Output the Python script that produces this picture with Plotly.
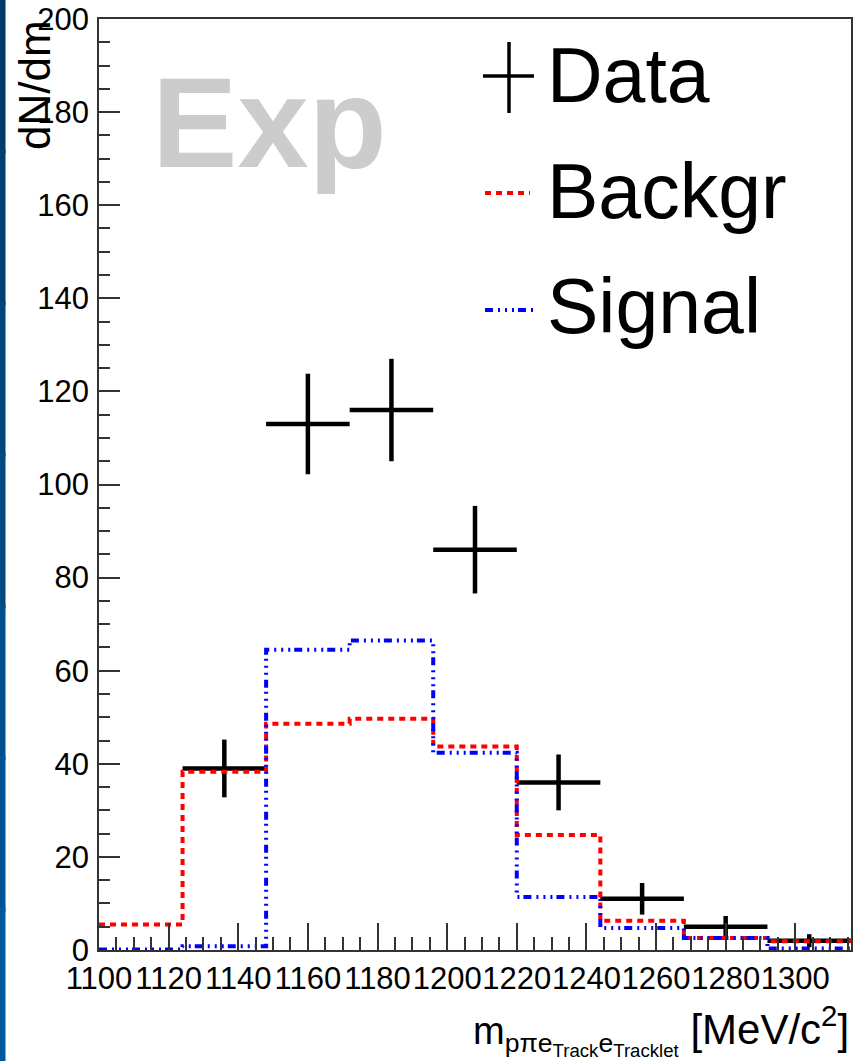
import plotly.graph_objects as go

# ---- data ----
bin_edges = [1100, 1124, 1148, 1172, 1196, 1220, 1244, 1268, 1292, 1316]
bin_centers = [1112, 1136, 1160, 1184, 1208, 1232, 1256, 1280, 1304]
data_counts = [None, 39, 113, 116, 86, 36, 11, 5, 2]
data_errors = [None, 6.2, 10.8, 11.0, 9.4, 6.0, 3.4, 2.3, 1.4]
backgr = [5.5, 38.3, 48.6, 49.7, 43.7, 24.7, 6.3, 2.6, 1.9]
signal = [0.1, 0.8, 64.5, 66.5, 42.4, 11.4, 4.7, 2.6, 0.3]
x_ticks = [1100, 1120, 1140, 1160, 1180, 1200, 1220, 1240, 1260, 1280, 1300]
y_ticks = [0, 20, 40, 60, 80, 100, 120, 140, 160, 180, 200]

W, H = 862, 1061
ML, MR, MT, MB = 99, 11, 19, 111
PW, PH = W - ML - MR, H - MT - MB
FONT = "Liberation Sans, Arial, Helvetica, sans-serif"


def px(xp):
    return (xp - ML) / PW


def py(yp):
    return 1 - (yp - MT) / PH


fig = go.Figure()

# Data with error crosses
half_w = [(bin_edges[i + 1] - bin_edges[i]) / 2 for i in range(len(bin_centers))]
fig.add_trace(go.Scatter(
    x=bin_centers, y=data_counts, mode="markers",
    marker=dict(size=1, color="black"),
    error_x=dict(type="data", array=half_w, width=0, thickness=4.5, color="black"),
    error_y=dict(type="data", array=data_errors, width=0, thickness=4.5, color="black"),
    name="Data", showlegend=False,
))

# step histograms
fig.add_trace(go.Scatter(
    x=bin_edges, y=backgr + [backgr[-1]], mode="lines", line_shape="hv",
    line=dict(color="#ff0000", width=4, dash="6px,5px"),
    name="Backgr", showlegend=False,
))
fig.add_trace(go.Scatter(
    x=bin_edges, y=signal + [signal[-1]], mode="lines", line_shape="hv",
    line=dict(color="#0000ff", width=4, dash="8px,5px,2px,5px,2px,5px,2px,4px"),
    name="Signal", showlegend=False,
))

axis_common = dict(
    showline=True, linecolor="#333333", linewidth=1.5, mirror=True,
    ticks="inside", tickcolor="#333333", tickwidth=1.5,
    showgrid=False, zeroline=False, automargin=False,
    tickfont=dict(family=FONT, size=31, color="black"),
)

fig.update_xaxes(
    range=[1100, 1316], tickmode="array", tickvals=x_ticks,
    ticktext=[str(v) for v in x_ticks], ticklen=27, tickangle=0,
    minor=dict(dtick=5, tick0=1100, ticklen=13, ticks="inside",
               tickcolor="#333333", tickwidth=1.5),
    **axis_common,
)
fig.update_yaxes(
    range=[0, 200], tickmode="array", tickvals=y_ticks,
    ticktext=[str(v) for v in y_ticks], ticklen=21,
    minor=dict(dtick=5, tick0=0, ticklen=11, ticks="inside",
               tickcolor="#333333", tickwidth=1.5),
    ticklabelstandoff=2,
    **axis_common,
)

shapes = []
# left decorative strip (slide background), drawn as overlapping bands
strip_cols = ["#003a68", "#003f71", "#00447a", "#004a83", "#004f8c", "#005495", "#00589d"]
n = len(strip_cols)
for i, c in enumerate(strip_cols):
    top = i * H / n - 2
    bot = (i + 1) * H / n + 2
    shapes.append(dict(type="rect", xref="paper", yref="paper",
                       x0=px(0), x1=px(5.5), y0=py(bot), y1=py(top),
                       fillcolor=c, line=dict(width=0), layer="above"))

# legend keys
shapes.append(dict(type="line", xref="paper", yref="paper",
                   x0=px(483), x1=px(534), y0=py(76), y1=py(76),
                   line=dict(color="black", width=3.5)))
shapes.append(dict(type="line", xref="paper", yref="paper",
                   x0=px(509), x1=px(509), y0=py(42), y1=py(113),
                   line=dict(color="black", width=3.5)))
shapes.append(dict(type="line", xref="paper", yref="paper",
                   x0=px(485), x1=px(530), y0=py(193), y1=py(193),
                   line=dict(color="#ff0000", width=4, dash="6px,5px")))
shapes.append(dict(type="line", xref="paper", yref="paper",
                   x0=px(485), x1=px(534), y0=py(310), y1=py(310),
                   line=dict(color="#0000ff", width=4,
                             dash="8px,5px,2px,5px,2px,5px,2px,4px")))

annotations = []
for label, yc in [("Data", 75), ("Backgr", 191), ("Signal", 306)]:
    annotations.append(dict(
        text=label, xref="paper", yref="paper", x=px(545), y=py(yc),
        xanchor="left", yanchor="middle", showarrow=False,
        font=dict(family=FONT, size=77, color="black")))

annotations.append(dict(
    text="<b>Exp</b>", xref="paper", yref="paper", x=px(150), y=py(122),
    xanchor="left", yanchor="middle", showarrow=False,
    font=dict(family=FONT, size=128, color="#cccccc")))

annotations.append(dict(
    text="dN/dm", textangle=-90, xref="paper", yref="paper",
    x=px(35), y=py(18), xanchor="center", yanchor="top", showarrow=False,
    font=dict(family=FONT, size=44, color="black")))

annotations.append(dict(
    text=("<span style='font-size:38px'>m<sub>pπe<sub>Track</sub>e<sub>Tracklet</sub></sub></span>"
          " [MeV/c<sup>2</sup>]"),
    xref="paper", yref="paper", x=px(851), y=py(1030),
    xanchor="right", yanchor="middle", showarrow=False,
    font=dict(family=FONT, size=42, color="black")))

fig.update_layout(
    width=W, height=H,
    margin=dict(l=ML, r=MR, t=MT, b=MB, pad=0),
    paper_bgcolor="white", plot_bgcolor="white",
    shapes=shapes, annotations=annotations, showlegend=False,
)

fig.write_html("out.html")
